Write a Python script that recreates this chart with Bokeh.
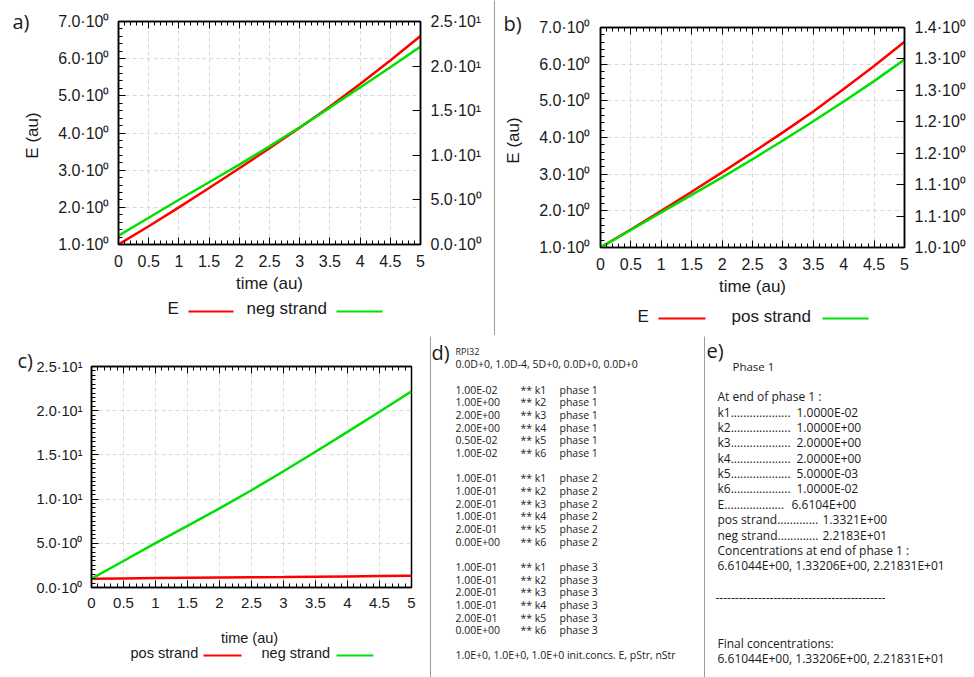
import numpy as np
from bokeh.plotting import figure
from bokeh.models import (Range1d, LinearAxis, SingleIntervalTicker, FixedTicker,
                          NumeralTickFormatter, ColumnDataSource)
from bokeh.layouts import row, column
from bokeh.embed import file_html
from bokeh.resources import INLINE
from bokeh.core.properties import value

# ---------------- data ----------------
time = [0.0, 0.5, 1.0, 1.5, 2.0, 2.5, 3.0, 3.5, 4.0, 4.5, 5.0]
E_conc = [1.0, 1.49, 2.0, 2.52, 3.05, 3.59, 4.14, 4.71, 5.32, 5.95, 6.61]
neg_strand = [1.0, 3.0, 5.02, 6.98, 8.95, 11.0, 13.15, 15.35, 17.6, 19.88, 22.18]
pos_strand = [1.0, 1.031, 1.062, 1.093, 1.124, 1.156, 1.189, 1.223, 1.258, 1.294, 1.332]

E_ticks = [1, 2, 3, 4, 5, 6, 7]
E_tick_labels = ["1.0·10⁰", "2.0·10⁰", "3.0·10⁰", "4.0·10⁰", "5.0·10⁰", "6.0·10⁰", "7.0·10⁰"]
neg_ticks = [0, 5, 10, 15, 20, 25]
neg_tick_labels = ["0.0·10⁰", "5.0·10⁰", "1.0·10¹", "1.5·10¹", "2.0·10¹", "2.5·10¹"]
pos_ticks = [1.0, 1.0555, 1.1111, 1.1666, 1.2222, 1.2777, 1.3333, 1.3888]
pos_tick_labels = ["1.0·10⁰", "1.1·10⁰", "1.1·10⁰", "1.2·10⁰", "1.2·10⁰", "1.3·10⁰", "1.3·10⁰", "1.4·10⁰"]

legend_a = ["E", "neg strand"]
legend_b = ["E", "pos strand"]
legend_c = ["pos strand", "neg strand"]
x_title = "time (au)"
y_title = "E (au)"

d_header = "RPI32"
d_params = "0.0D+0, 1.0D-4, 5D+0, 0.0D+0, 0.0D+0"
rate_names = ["k1", "k2", "k3", "k4", "k5", "k6"]
rate_values = [
    ["1.00E-02", "1.00E+00", "2.00E+00", "2.00E+00", "0.50E-02", "1.00E-02"],
    ["1.00E-01", "1.00E-01", "2.00E-01", "1.00E-01", "2.00E-01", "0.00E+00"],
    ["1.00E-01", "1.00E-01", "2.00E-01", "1.00E-01", "2.00E-01", "0.00E+00"],
]
d_init = "1.0E+0, 1.0E+0, 1.0E+0   init.concs. E, pStr, nStr"

e_phase = "Phase  1"
e_atend = "At end of phase   1 :"
e_names = ["k1...................", "k2...................", "k3...................",
           "k4...................", "k5...................", "k6...................",
           "E...................", "pos strand.............", "neg strand............."]
e_values = ["1.0000E-02", "1.0000E+00", "2.0000E+00", "2.0000E+00", "5.0000E-03",
            "1.0000E-02", "6.6104E+00", "1.3321E+00", "2.2183E+01"]
e_conc_title = "Concentrations at end of phase   1 :"
e_conc = "6.61044E+00, 1.33206E+00, 2.21831E+01"
e_rule = "--------------------------------------------"
e_final_title = "Final concentrations:"
e_final = "6.61044E+00, 1.33206E+00, 2.21831E+01"

RED = "#ff0000"
GREEN = "#00e000"
INK = "#1a1a1a"
AXFONT = "Liberation Sans"
TXTFONT = "Open Sans"


# ---------------- helpers ----------------
def text_panel(w, h):
    p = figure(width=w, height=h, x_range=Range1d(0, w), y_range=Range1d(h, 0),
               toolbar_location=None, output_backend="svg", min_border=0,
               x_axis_type=None, y_axis_type=None, outline_line_color=None,
               background_fill_color="white", border_fill_color="white",
               frame_align=False)
    p.xgrid.visible = False
    p.ygrid.visible = False
    return p


def put(p, xs, ys, texts, size, font=TXTFONT, align="left", angle=0.0):
    p.text(x=xs, y=ys, text=texts, text_font=value(font), text_font_size=size,
           text_color=INK, text_baseline="middle", text_align=align, angle=angle)


def sample(p, x0, x1, y, color):
    p.segment(x0=[x0], y0=[y], x1=[x1], y1=[y], line_color=color, line_width=2)


def style_axis(ax, tick_in=7, minor_in=4):
    ax.major_tick_in = tick_in
    ax.major_tick_out = 0
    ax.minor_tick_in = minor_in
    ax.minor_tick_out = 0
    ax.axis_line_color = "black"
    ax.axis_line_width = 1.5
    ax.major_tick_line_color = "black"
    ax.minor_tick_line_color = "black"
    ax.major_label_text_font = AXFONT
    ax.major_label_text_color = INK
    ax.axis_label_text_font = AXFONT
    ax.axis_label_text_font_style = "normal"
    ax.axis_label_text_color = INK


def chart(w, h, ml, mr, mt, mb, yr, xsize, ysize):
    p = figure(width=w, height=h, x_range=Range1d(0, 5), y_range=Range1d(*yr),
               toolbar_location=None, output_backend="svg",
               min_border_left=ml, min_border_right=mr, min_border_top=mt, min_border_bottom=mb,
               background_fill_color="white", border_fill_color="white",
               outline_line_color="black", outline_line_width=1.5, frame_align=False)
    xt = SingleIntervalTicker(interval=0.5, num_minor_ticks=5)
    bottom = p.below[0]
    left = p.left[0]
    bottom.ticker = xt
    p.xgrid.ticker = xt
    bottom.formatter = NumeralTickFormatter(format="0.[0]")
    style_axis(bottom)
    style_axis(left)
    bottom.major_label_text_font_size = xsize
    left.major_label_text_font_size = ysize
    bottom.major_label_standoff = 10
    left.major_label_standoff = 9
    top = LinearAxis(ticker=xt)
    style_axis(top)
    top.major_label_text_color = None
    top.major_label_text_font_size = "8px"
    top.major_label_standoff = 0
    p.add_layout(top, "above")
    for g in (p.xgrid, p.ygrid):
        g.grid_line_color = "#d9d9d9"
        g.grid_line_dash = "4 3"
        g.grid_line_width = 1
    return p, bottom, left


def right_axis(p, name, rng, ticks, labels):
    p.extra_y_ranges = {name: rng}
    ax = LinearAxis(y_range_name=name, ticker=FixedTicker(ticks=ticks),
                    major_label_overrides=dict(zip(ticks, labels)))
    style_axis(ax, tick_in=8, minor_in=0)
    ax.major_label_standoff = 10
    ax.major_label_text_font_size = "16px"
    p.add_layout(ax, "right")


src = ColumnDataSource(dict(t=time, E=E_conc, neg=neg_strand, pos=pos_strand))

# ---------------- panel a ----------------
ca, ba, la_ax = chart(449, 295, 73, 74, 21, 51, (1, 7), "16px", "16px")
la_ax.ticker = SingleIntervalTicker(interval=1, num_minor_ticks=5)
ca.ygrid.ticker = la_ax.ticker
la_ax.major_label_overrides = dict(zip(E_ticks, E_tick_labels))
ba.axis_label = x_title
ba.axis_label_text_font_size = "17px"
ba.axis_label_standoff = 4
right_axis(ca, "neg", Range1d(0, 25), neg_ticks, neg_tick_labels)
ca.line("t", "E", source=src, color=RED, line_width=2.5)
ca.line("t", "neg", source=src, color=GREEN, line_width=2.5, y_range_name="neg")

sa = text_panel(45, 335)
put(sa, [12], [21], ["a)"], "20px")
put(sa, [32], [135], [y_title], "17px", AXFONT, "center", np.pi / 2)

la = text_panel(449, 40)
put(la, [122], [13], [legend_a[0]], "17px", AXFONT)
sample(la, 143, 188, 16, RED)
put(la, [201], [13], [legend_a[1]], "17px", AXFONT)
sample(la, 291, 337, 16, GREEN)

# ---------------- panel b ----------------
cb, bb, lb_ax = chart(442, 298, 68, 70, 27, 49, (1, 7), "16px", "16px")
lb_ax.ticker = SingleIntervalTicker(interval=1, num_minor_ticks=5)
cb.ygrid.ticker = lb_ax.ticker
lb_ax.major_label_overrides = dict(zip(E_ticks, E_tick_labels))
lb_ax.major_label_standoff = 10
bb.axis_label = x_title
bb.axis_label_text_font_size = "17px"
bb.axis_label_standoff = 4
right_axis(cb, "pos", Range1d(1.0, 1.3888), pos_ticks, pos_tick_labels)
cb.line("t", "E", source=src, color=RED, line_width=2.5)
cb.line("t", "pos", source=src, color=GREEN, line_width=2.5, y_range_name="pos")

sb = text_panel(37, 335)
put(sb, [8], [23], ["b)"], "20px")
put(sb, [18], [140], [y_title], "17px", AXFONT, "center", np.pi / 2)

lb = text_panel(442, 37)
put(lb, [105], [18], [legend_b[0]], "17px", AXFONT)
sample(lb, 126, 173, 20, RED)
put(lb, [199], [18], [legend_b[1]], "17px", AXFONT)
sample(lb, 290, 336, 20, GREEN)

# ---------------- panel c ----------------
cc, bc, lc_ax = chart(397, 284, 54, 19, 30, 33, (0, 25), "15px", "14.5px")
lc_ax.ticker = FixedTicker(ticks=neg_ticks, minor_ticks=list(np.arange(0, 25.01, 0.5)))
cc.ygrid.ticker = lc_ax.ticker
lc_ax.major_label_overrides = dict(zip(neg_ticks, neg_tick_labels))
cc.line("t", "pos", source=src, color=RED, line_width=2.5)
cc.line("t", "neg", source=src, color=GREEN, line_width=2.5)

sc = text_panel(33, 341)
put(sc, [17], [24], ["c)"], "20px")

lc = text_panel(397, 57)
put(lc, [216], [17], [x_title], "14.5px", AXFONT, "center")
put(lc, [97], [32], [legend_c[0]], "14.5px", AXFONT)
sample(lc, 170, 208, 35, RED)
put(lc, [228], [32], [legend_c[1]], "14.5px", AXFONT)
sample(lc, 303, 340, 35, GREEN)

# ---------------- panel d ----------------
pd_ = text_panel(273, 341)
put(pd_, [0], [16], ["d)"], "20px")
put(pd_, [24], [15], [d_header], "9px")
put(pd_, [24], [27.3], [d_params], "10.5px")
LD = 12.65
for b, vals in enumerate(rate_values):
    ys = [53.3 + (b * 7 + i) * LD for i in range(6)]
    put(pd_, [24] * 6, ys, vals, "10.5px")
    put(pd_, [89] * 6, ys, ["** " + k for k in rate_names], "10.5px")
    put(pd_, [128] * 6, ys, ["phase %d" % (b + 1)] * 6, "10.5px")
put(pd_, [24], [53.3 + 21 * LD], [d_init], "10.5px")

# ---------------- panel e ----------------
pe = text_panel(269, 341)
put(pe, [1], [14], ["e)"], "20px")
put(pe, [27], [29.7], [e_phase], "11.5px")
put(pe, [12], [59.7], [e_atend], "12px")
LE = 15.35
val_x = [91, 91, 91, 91, 91, 91, 86, 117, 117]
ys = [75.7 + i * LE for i in range(9)]
put(pe, [12] * 9, ys, e_names, "12px")
put(pe, val_x, ys, e_values, "12px")
put(pe, [12], [75.7 + 9 * LE], [e_conc_title], "12px")
put(pe, [12], [75.7 + 10 * LE], [e_conc], "12px")
put(pe, [10], [260.7], [e_rule], "12px")
put(pe, [12], [306.7], [e_final_title], "12px")
put(pe, [12], [321.7], [e_final], "12px")


# ---------------- separators ----------------
def rule(w, h):
    r = figure(width=w, height=h, toolbar_location=None, output_backend="svg", min_border=0,
               x_axis_type=None, y_axis_type=None, outline_line_color=None,
               background_fill_color="#3a3a3a", border_fill_color="#3a3a3a",
               frame_align=False)
    r.xgrid.visible = False
    r.ygrid.visible = False
    return r


layout = column(
    row(sa, column(ca, la, spacing=0), rule(1, 335), sb, column(cb, lb, spacing=0), spacing=0),
    rule(974, 1),
    row(sc, column(cc, lc, spacing=0), rule(1, 341), pd_, rule(1, 341), pe, spacing=0),
    spacing=0,
)

open("out.html", "w").write(file_html(layout, INLINE))
